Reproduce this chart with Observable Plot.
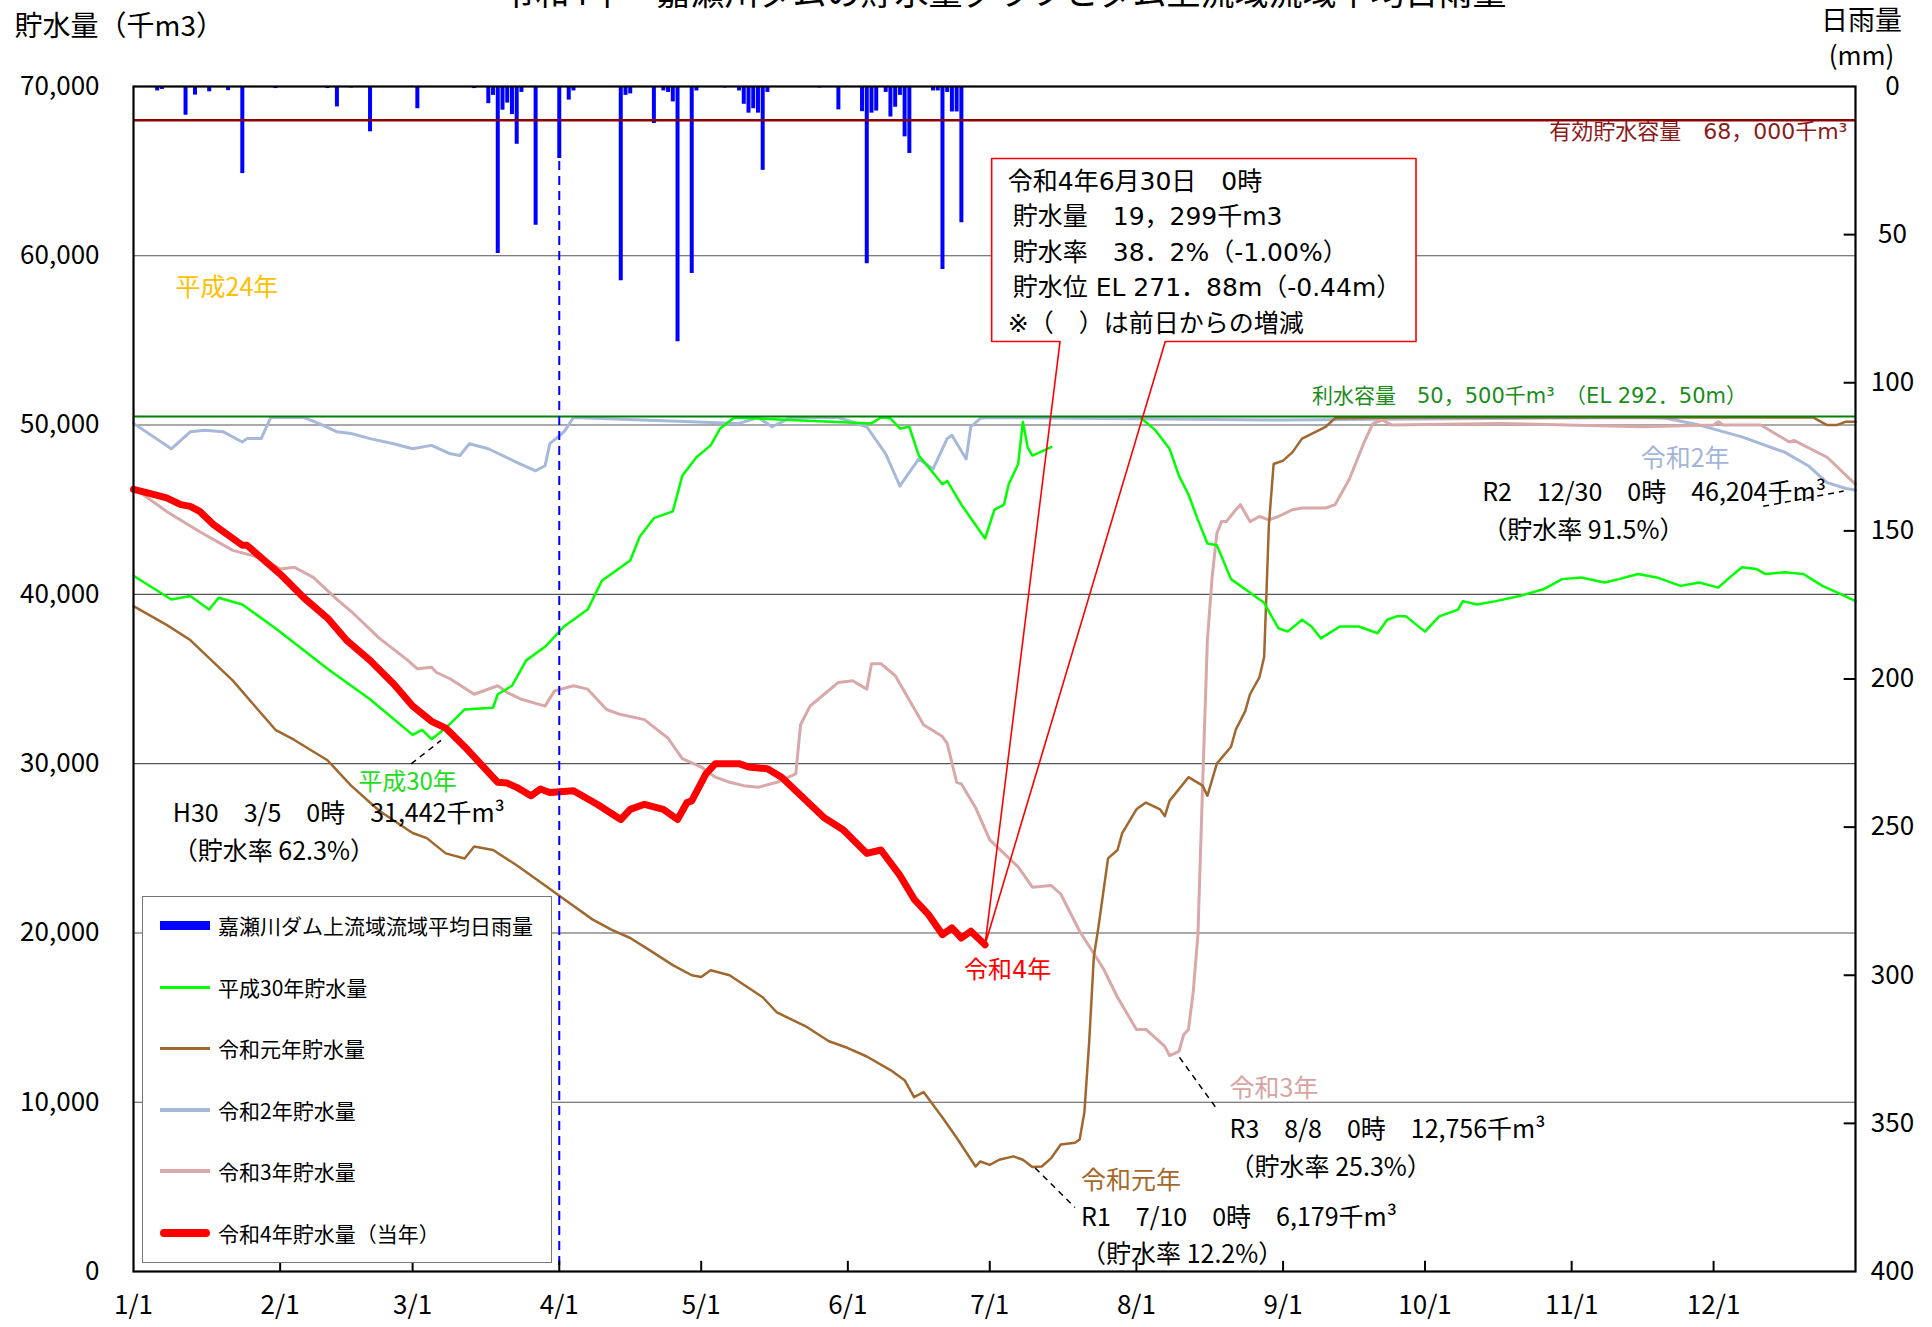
<!DOCTYPE html>
<html><head><meta charset="utf-8">
<script src="https://cdn.jsdelivr.net/npm/d3@7"></script>
<script src="https://cdn.jsdelivr.net/npm/@observablehq/plot@0.6"></script>
<style>
html,body{margin:0;padding:0;background:#fff;overflow:hidden;}
#wrap{position:relative;width:1932px;height:1327px;font-family:'Noto Sans CJK JP',sans-serif;}
#chart svg{display:block;}
#title{position:absolute;left:0;width:2008px;top:-26px;text-align:center;font-size:34px;line-height:34px;white-space:nowrap;color:#000;}
#legend{position:absolute;left:142px;top:896px;width:410px;height:367px;border:1.5px solid #777;background:#fff;box-sizing:border-box;}
.item{position:absolute;left:0;height:30px;display:flex;align-items:center;font-size:21px;white-space:nowrap;}
.sw{display:inline-block;width:50px;margin-left:17px;margin-right:8px;}
</style></head>
<body><div id="wrap"><div id="chart"></div><div id="title">令和4年　嘉瀬川ダムの貯水量グラフとダム上流域流域平均日雨量</div><div id="legend"></div></div>
<script>
// ---------- data (day of year, value) ----------
const monthStartDays = [1,32,60,91,121,152,182,213,244,274,305,335];
const monthLabels = ["1/1","2/1","3/1","4/1","5/1","6/1","7/1","8/1","9/1","10/1","11/1","12/1"];
const storageTicks = [0,10000,20000,30000,40000,50000,60000,70000];
const rainTicks = [0,50,100,150,200,250,300,350,400];

// daily rainfall (mm)
const rainfall = [[6,1.5],[7,1.0],[12,9.7],[14,2.9],[17,1.8],[21,1.4],[24,29.4],[31,0.7],[33,0.3],[42,0.7],[44,6.9],[47,0.5],[51,15.3],[61,7.5],[73,0.7],
[76,5.8],[77,3],[78,56.4],[79,8],[80,5.6],[81,9.5],[82,19.5],[83,2],[86,46.8],[91,24.3],
[93,4.6],[94,1.5],[104,65.6],[105,3],[106,2.5],[111,12.5],[113,1.5],[114,2],[115,5.2],[116,86.2],[119,63.1],[120,1.5],[126,0.5],
[129,1.5],[130,6],[131,9],[132,7.5],[133,9],[134,28.3],[135,2],[146,0.5],[150,7.9],
[155,8.5],[156,59.8],[157,9],[158,8.3],[160,2],[161,10.3],[162,7],[163,3],[164,17],[165,22.6],
[170,1.5],[171,1.5],[172,61.8],[173,2],[174,8.6],[175,8.6],[176,46]];

// 平成30年 storage (千m3)
const h30 = [[1,41100],[9,39700],[13,39900],[17,39100],[19,39800],[24,39400],[31,38000],[42,35600],[51,33800],[60,31700],[62,32000],[64,31442],[67,32100],[71,33200],[77,33300],[78,34100],[81,34600],[84,36100],[88,36900],[92,38100],[97,39100],[100,40800],[106,42000],[108,43400],[111,44500],[115,44900],[117,47000],[120,48100],[123,48800],[125,49800],[128,50450],[157,50100],[159,50450],[161,50400],[163,49800],[165,49900],[167,48200],[172,46500],[173,46700],[176,45300],[181,43300],[183,45000],[185,45300],[186,46500],[188,47700],[189,50200],[190,48700],[191,48200],[195,48700],[205,null],
[214,50400],[217,49700],[220,48600],[222,47000],[224,45900],[226,44400],[228,43000],[230,42900],[233,40900],[238,39900],[240,39500],[243,38000],[245,37800],[248,38500],[250,38100],[252,37400],[256,38100],[260,38100],[264,37700],[266,38500],[268,38700],[270,38700],[274,37800],[277,38700],[281,39100],[282,39600],[285,39400],[289,39600],[294,39900],[299,40300],[303,40900],[307,41000],[312,40700],[315,40900],[319,41200],[323,41000],[328,40500],[332,40700],[336,40400],[338,40900],[341,41600],[344,41500],[346,41200],[350,41300],[354,41200],[358,40500],[362,40000],[365,39600]];

// 令和元年 storage
const r1 = [[1,39300],[8,38200],[13,37300],[22,34900],[31,32000],[33,31700],[35,31400],[42,30200],[47,28700],[53,27200],[60,25900],[63,25600],[67,24700],[71,24400],[73,25100],[77,24900],[82,24000],[88,22800],[93,21800],[98,20800],[102,20200],[106,19700],[110,19000],[115,18100],[119,17500],[121,17400],[123,17800],[127,17500],[134,16200],[137,15300],[143,14500],[148,13600],[152,13200],[156,12700],[161,11900],[164,11300],[166,10300],[168,10600],[172,9100],[175,7900],[179,6200],[180,6500],[182,6300],[184,6600],[187,6800],[189,6600],[191,6179],[193,6200],[195,6700],[197,7500],[200,7600],[201,7800],[202,9400],[203,13500],[204,18600],[205,20400],[207,24400],[209,24900],[210,25900],[213,27300],[215,27700],[218,27300],[219,26900],[220,27800],[224,29200],[227,28700],[228,28100],[230,30000],[233,31000],[234,32000],[236,33100],[237,34100],[239,35100],[240,36300],[241,44100],[242,47700],[244,47900],[246,48400],[248,49200],[253,49900],[255,50400],[270,50450],[300,50450],[330,50450],[356,50450],[359,50000],[361,50000],[363,50200],[365,50200]];

// 令和2年 storage
const r2 = [[1,50100],[9,48600],[13,49600],[16,49700],[20,49600],[24,49000],[25,49200],[28,49200],[30,50450],[37,50450],[41,50000],[44,49600],[47,49500],[51,49200],[56,48900],[60,48600],[64,48800],[68,48300],[70,48200],[72,48900],[76,48600],[82,47800],[86,47300],[88,47600],[89,48900],[92,49600],[94,50450],[129,50100],[133,50450],[136,49900],[140,50450],[150,50450],[156,49900],[160,48300],[163,46400],[165,47200],[167,48000],[170,47400],[173,49200],[174,49400],[177,48000],[178,49900],[180,50400],[182,50450],[244,50300],[320,50450],[325,50400],[332,50000],[341,49300],[350,48400],[355,47600],[359,46600],[363,46250],[364,46204],[365,46150]];

// 令和3年 storage
const r3 = [[1,46300],[8,44900],[15,43700],[22,42600],[26,42300],[29,42000],[32,41500],[35,41600],[39,41000],[44,39700],[47,39000],[53,37400],[59,36100],[61,35600],[64,35700],[65,35400],[68,35000],[73,34100],[78,34600],[80,34200],[83,33800],[88,33400],[90,34300],[94,34600],[97,34400],[101,33200],[104,32900],[109,32600],[114,31500],[117,30300],[121,29800],[124,29200],[127,28900],[130,28700],[133,28600],[137,28900],[141,29400],[142,32300],[144,33400],[147,34100],[150,34800],[153,34900],[156,34400],[157,35900],[159,35900],[162,35200],[168,32300],[172,31600],[173,31200],[175,28900],[176,28800],[179,27400],[182,25500],[188,23900],[191,22700],[195,22800],[197,22300],[201,20100],[206,17900],[209,16200],[213,14300],[215,14300],[219,13300],[220,12756],[222,13000],[223,14000],[224,14300],[225,16500],[226,19900],[227,28800],[228,37300],[229,41000],[230,43600],[231,44300],[232,44300],[234,45000],[235,45300],[237,44300],[239,44600],[241,44400],[243,44600],[246,45000],[248,45100],[253,45100],[255,45300],[258,46800],[261,48900],[263,50100],[265,50300],[267,50000],[290,50100],[320,49900],[335,50000],[336,50200],[337,50000],[345,50000],[351,49000],[352,49100],[359,48100],[365,46500]];

// 令和4年 storage (current year)
const r4 = [[1,46200],[4,46000],[8,45700],[11,45300],[13,45200],[15,44900],[18,44100],[24,42900],[25,42900],[27,42400],[32,41200],[37,39800],[42,38600],[46,37300],[51,36100],[56,34700],[60,33400],[64,32500],[67,32100],[71,31000],[75,29800],[78,28900],[80,28850],[82,28600],[85,28100],[87,28500],[89,28300],[94,28400],[99,27600],[104,26700],[106,27300],[109,27600],[113,27300],[116,26700],[118,27700],[119,27800],[122,29400],[124,30000],[129,30000],[131,29800],[135,29700],[138,29200],[141,28400],[147,26800],[151,26100],[156,24700],[159,24900],[163,23400],[166,22000],[169,21100],[172,19900],[174,20300],[176,19700],[178,20100],[181,19299]];

const effectiveCapacity = 68000;
const utilizationCapacity = 50500;

const legendLabels = ["嘉瀬川ダム上流域流域平均日雨量","平成30年貯水量","令和元年貯水量","令和2年貯水量","令和3年貯水量","令和4年貯水量（当年）"];
const legendColors = ["#0000FF","#00FF00","#A0672E","#A6B9DA","#D9A8A8","#FF0000"];
const legendThick = [9,3,3,4,4,8];

// ---------- helpers ----------
const D = doy => new Date(Date.UTC(2022,0,1) + (doy-1)*864e5);
const RAIN_TOP = 70000, RAIN_K = 70000/400;
const rainY = mm => RAIN_TOP - mm*RAIN_K;
const FONT = "'Noto Sans CJK JP', sans-serif";
const WIDE = "'DejaVu Sans', 'Noto Sans CJK JP', sans-serif";

const startAnnos = [
  {doy:250.1, v:51715, text:"利水容量　50，500千m³　（EL 292．50m）", color:"#1A8C1A", size:21, font:WIDE},
  {doy:9.9, v:58125, text:"平成24年", color:"#FFC000", size:25, font:FONT},
  {doy:319.6, v:48024, text:"令和2年", color:"#A3B5D6", size:25, font:FONT},
  {doy:232.7, v:10810, text:"令和3年", color:"#D9A3A3", size:25, font:FONT},
  {doy:201.3, v:5375, text:"令和元年", color:"#A5682A", size:25, font:FONT},
  {doy:48.5, v:28900, text:"平成30年", color:"#22DD22", size:24, font:FONT}
];
const noteAnnos = [
  {doy:286.1, v:45100, text:"R2　12/30　0時　46,204千m³\n（貯水率 91.5%）"},
  {doy:232.7, v:7472, text:"R3　8/8　0時　12,756千m³\n（貯水率 25.3%）"},
  {doy:201.3, v:2304, text:"R1　7/10　0時　6,179千m³\n（貯水率 12.2%）"},
  {doy:9.3, v:26150, text:"H30　3/5　0時　31,442千m³\n（貯水率 62.3%）"}
];
const leaders = [
  {a:59.7, av:29990, b:66, bv:31370},
  {a:345.5, av:45200, b:362.5, bv:46100},
  {a:222.1, av:12650, b:230, bv:9600},
  {a:191.6, av:6110, b:200, bv:3780}
];
const last = r4[r4.length-1];
const box = {x1:182.4, x2:272.1, y1:54935, y2:65745, p1:196.85, p2:219.1};
const calloutOutline = [[box.p1,box.y1],[box.x1,box.y1],[box.x1,box.y2],[box.x2,box.y2],[box.x2,box.y1],[box.p2,box.y1],[last[0],last[1]],[box.p1,box.y1]];
const calloutText = "令和4年6月30日　0時\n\u2009貯水量　19，299千m3\n\u2009貯水率　38．2%（-1.00%）\n\u2009貯水位 EL 271．88m（-0.44m）\n※（　）は前日からの増減";

const line = (data, stroke, w) => Plot.line(data, {x: d => D(d[0]), y: d => d[1], stroke, strokeWidth: w, strokeLinejoin:"round", strokeLinecap:"round"});

const chart = Plot.plot({
  width: 1932, height: 1327,
  marginLeft: 133, marginRight: 77, marginTop: 86, marginBottom: 56,
  x: {type: "utc", domain: [D(1), D(365)]},
  y: {domain: [0, 70000]},
  style: {fontFamily: FONT, fontSize: "24px", color: "black", background: "white", overflow: "visible"},
  marks: [
    Plot.ruleY(storageTicks.filter(v => v > 0 && v < 70000), {stroke: "#555", strokeWidth: 1.1}),
    Plot.ruleX(rainfall, {x: d => D(d[0]), y1: RAIN_TOP, y2: d => rainY(d[1]), stroke: "#0000FF", strokeWidth: 4}),
    line(r2, "#A6B9DA", 3),
    line(r3, "#D9A8A8", 3),
    line(r1, "#A0672E", 2.5),
    line(h30, "#00FF00", 2.5),
    line(r4, "#FF0000", 7),
    Plot.ruleY([effectiveCapacity], {stroke: "#8B0000", strokeWidth: 2.5}),
    Plot.ruleY([utilizationCapacity], {stroke: "#008000", strokeWidth: 2}),
    Plot.ruleX([D(91)], {stroke: "#0000FF", strokeWidth: 2, strokeDasharray: "9,6"}),
    // inward ticks
    Plot.ruleX(monthStartDays.slice(1), {x: d => D(d), y1: 0, y2: 600, stroke: "black", strokeWidth: 2}),
    Plot.ruleY(rainTicks.slice(1, -1), {y: d => rainY(d), x1: () => D(362.6), x2: () => D(365), stroke: "black", strokeWidth: 2}),
    Plot.frame({stroke: "black", strokeWidth: 2.2}),
    Plot.axisX({ticks: monthStartDays.map(D), tickFormat: (d, i) => monthLabels[i], tickSize: 0, tickPadding: 24, fontSize: 26, label: null}),
    Plot.axisY({anchor: "left", ticks: storageTicks, tickFormat: d3.format(","), tickSize: 0, tickPadding: 34, fontSize: 26, label: null}),
    Plot.axisY({anchor: "right", ticks: rainTicks.map(rainY), tickFormat: d => String(Math.round((RAIN_TOP - d)/RAIN_K)), tickSize: 0, tickPadding: 37, textAnchor: "middle", fontSize: 26, label: null}),
    // axis titles
    Plot.text(["貯水量（千m3）"], {text: d => d, frameAnchor: "top-left", dx: -119, dy: -59, textAnchor: "start", lineAnchor: "middle", fontSize: 28}),
    Plot.text(["日雨量"], {text: d => d, frameAnchor: "top-right", dx: 6, dy: -65, textAnchor: "middle", lineAnchor: "middle", fontSize: 27}),
    Plot.text(["(mm)"], {text: d => d, frameAnchor: "top-right", dx: 6, dy: -30, textAnchor: "middle", lineAnchor: "middle", fontSize: 26}),
    // annotations
    Plot.text([{doy:363.3, v:67340}], {x: d => D(d.doy), y: "v", text: () => "有効貯水容量　68，000千m³", fill: "#8B1A1A", textAnchor: "end", fontSize: 22, fontFamily: WIDE}),
    ...startAnnos.map(a => Plot.text([a], {x: d => D(d.doy), y: "v", text: "text", fill: a.color, textAnchor: "start", fontSize: a.size, fontFamily: a.font})),
    Plot.text(noteAnnos, {x: d => D(d.doy), y: "v", text: "text", fill: "black", textAnchor: "start", lineAnchor: "middle", lineHeight: 1.5, fontSize: 25}),
    Plot.link(leaders, {x1: d => D(d.a), y1: "av", x2: d => D(d.b), y2: "bv", stroke: "black", strokeWidth: 1.5, strokeDasharray: "6,5"}),
    Plot.text([{doy:185.8, v:17780}], {x: d => D(d.doy), y: "v", text: () => "令和4年", fill: "#FF0000", textAnchor: "middle", fontSize: 24, fontFamily: WIDE}),
    // callout
    Plot.rect([box], {x1: d => D(d.x1), x2: d => D(d.x2), y1: "y1", y2: "y2", fill: "white"}),
    Plot.line(calloutOutline, {x: d => D(d[0]), y: d => d[1], stroke: "#FF0000", strokeWidth: 1.6}),
    Plot.text([calloutText], {x: () => D(185.8), y: () => 60380, text: d => d, textAnchor: "start", lineAnchor: "middle", lineHeight: 1.42, fontSize: 25, fontFamily: WIDE, fill: "black"})
  ]
});
document.getElementById("chart").appendChild(chart);

// legend
const lg = document.getElementById("legend");
const rowCenters = [28, 90, 151, 213, 274, 336];
legendLabels.forEach((lab, i) => {
  const it = document.createElement("div");
  it.className = "item";
  it.style.top = (rowCenters[i] - 15) + "px";
  const sw = document.createElement("span");
  sw.className = "sw";
  sw.style.height = legendThick[i] + "px";
  sw.style.background = legendColors[i];
  if (i === 5) sw.style.borderRadius = "4px";
  const tx = document.createElement("span");
  tx.textContent = lab;
  it.appendChild(sw); it.appendChild(tx);
  lg.appendChild(it);
});
</script></body></html>
